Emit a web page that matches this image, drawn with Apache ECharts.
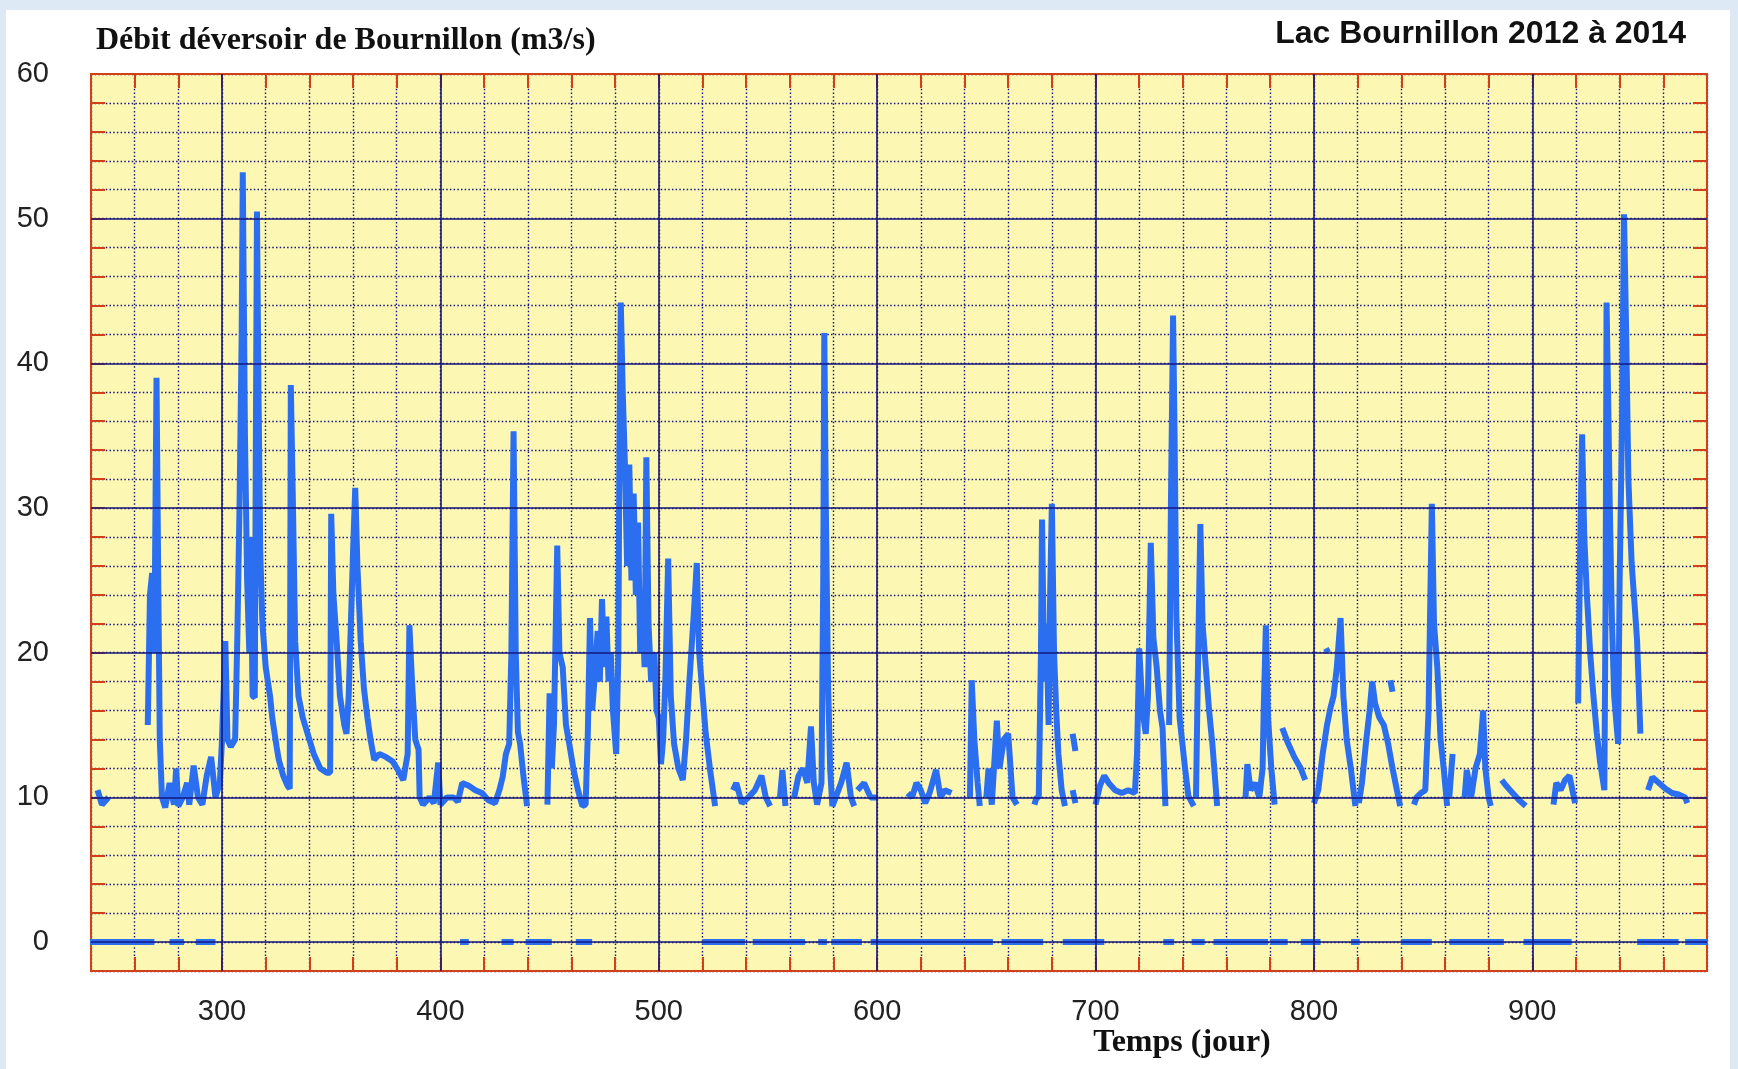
<!DOCTYPE html>
<html>
<head>
    <meta charset="utf-8">
    <title>Lac Bournillon 2012 à 2014</title>
    <script src="https://cdn.jsdelivr.net/npm/echarts@6/dist/echarts.min.js"></script>
    <style>
        body { margin: 0; background: #dde9f5; }
        #paper { position: absolute; left: 6px; top: 10px; right: 8px; bottom: 0; background: #ffffff; }
        #main { position: absolute; left: 0; top: 0; width: 1738px; height: 1069px; }
    </style>
</head>
<body>
    <div id="paper"></div>
    <div id="main"></div>
    <script>
        // débit du déversoir (jour, m3/s) ; null = coupure (déversoir à sec)
        var flow = [
            [243,10.5],[245,9.5],[248,10],null,
            [266,15],[267,24],[268,25.5],[269,20],[270,39],[270.8,25],[271.5,14],[272.5,10],[274,9.3],[276,11],[278,9.5],[279,12],[280,9.4],[282,10],[284,11],[285,9.5],[287,12.2],[289,10],[291,9.5],[293,11.5],[295,12.8],[297,10],[299,11],
            [300,14],[301.5,20.8],[302.5,14],[304,13.5],[306,14],[307,21],[308,30],[309,42],[309.5,53.2],[310.5,35],[311.5,25],[312.5,20],[313,28],[314,17],[315,16.9],[315.5,35],[316,50.5],[316.7,38],[317.5,27],[318.5,22],[320,19],[322,17],[323,15.5],[325,13.5],[326,12.6],[328,11.5],[330,10.8],[331,10.6],
            [331.5,38.5],[332.5,30],[333.5,20.8],[335,17],[337,15.5],[339,14.5],[342,13],[345,12],[348,11.7],[349.5,11.7],[350,29.6],[351,24],[352.5,20.8],[354,17],[356,15],[357,14.4],[358,17],[359,22],[360,27],[361,31.4],[362,26],[363.5,20.8],[365,17.5],[366.6,15.5],[368,14],[369.7,12.6],[372,13],[375,12.8],[378,12.5],[380.5,11.9],[383,11.2],[385,13],[385.8,21.9],[387,18],[388.5,14],[390,13.3],[390.5,10],[392,9.5],[395,10],[397,9.6],[399,12.4],
            [400,9.5],[403,10],[406,10],[408,9.7],[410,11],[413,10.8],[416,10.5],[419,10.3],[422,9.8],[425,9.6],[427,10.5],[428.5,11.4],[430,13],[431.5,13.7],[432.5,20],[433.5,35.3],[434.5,20],[435.5,14.5],[436.5,13.7],[438,11.5],[439.7,9.4],null,
            [449,9.5],[450,17.2],[451,12],[452,15],[453.5,27.4],[454.5,20],[456,19],[457.5,15],[459,13.7],[461,11.9],[463,10.5],[465,9.4],[466.5,9.5],[467.5,14.4],[468.5,22.4],[469.5,16],[471,19],[472,21.5],[473,18],[474,23.7],[475,19],[476,22.5],[477,18],[478,20],[479,16],[480.5,13],[481.5,20],[482,35],[482.6,44.2],[483.5,38],[484.5,33],[485.5,26],[486.5,33],[487.5,25],[488.5,31],[489.5,24],[490.5,29],[491.5,20],[492.5,23],[493.5,19],[494.3,33.5],[495.3,22],[496.5,18],[498,20],[499,16],
            [500,15.5],[501,12.3],[502,14],[503,18],[504.3,26.5],[505.5,17],[507,13.7],[509,12],[511,11.2],[512.5,14],[514,18],[516,22.6],[517.4,26.2],[518.5,20],[520,17.2],[521.5,14.4],[523.5,11.9],[525.8,9.4],null,
            [534,10.5],[535.5,11],[538,9.6],[541,10],[544,10.5],[547,11.5],[549,10],[551,9.4],null,
            [555.5,10],[556.6,11.9],[558,9.4],null,
            [562,10],[564,11.5],[566,12],[568,11],[569.7,14.9],[571,11],[572.5,9.5],[574.5,11],[575.3,25],[575.8,42.1],[576.5,30],[577.5,18],[578.5,11.9],[579.5,9.4],[581,10],[583.5,11],[586,12.4],[588,10],[589.5,9.4],null,
            [591,10.5],[594,11],[597,10],[600,10],null,
            [614,10.3],[616,10],[618,11],[620,10.5],[622,9.6],[624,10.3],[627,11.9],[629,10],[631,10.5],[634,10.3],null,
            [642.5,10],[643.3,18.1],[644.5,14],[646,11],[647,9.4],null,
            [650,10],[651,12],[652.5,9.5],[654.8,15.3],[656,12],[658,14],[660,14.4],[662,10],[664,9.5],null,
            [672,9.5],[673,10],[674,10],[675,20],[675.5,29.2],[676.5,18],[677.5,22],[678.5,15],[679.2,24],[680,30.3],[681,20],[682,16],[683,13],[684.5,10.5],[686,9.4],null,
            [689.5,14.4],[690.8,13.2],null,
            [689.5,10.5],[690.8,9.6],null,
            [700,9.5],[702,10.8],[704,11.5],[706,11],[709,10.5],[712,10.3],[715,10.5],[718,10.3],[719,13],[720,20.3],[721.5,16],[723,14.4],[724,17],[725.3,27.6],[726.5,21],[728,19],[729.5,16],[730.7,14.8],[732,9.4],null,
            [733.7,15],[734.5,30],[735.5,43.3],[736.2,35],[737,22.6],[738.5,15.5],[741,12],[742.5,10.1],[745,9.4],null,
            [746,10],[747,20],[748,28.9],[749,22],[750.5,19],[752,16],[753.5,13.7],[755.7,9.4],null,
            [768.7,10],[769.5,12.3],[771,10.5],[773,11],[775,10],[776.5,12],[777,16],[778,21.9],[779,15.5],[780.5,12],[782,9.5],null,
            [785.5,14.8],[788,13.8],[791,12.8],[794,12],[796,11.2],null,
            [800,9.6],[802,10.5],[804,13],[806,15],[807.6,16.2],[809,17],[810.5,19],[812.2,22.4],[813.5,17],[815,14],[817,11.9],[819,9.4],null,
            [805.5,20.3],[806.5,20],null,
            [820.6,9.6],[822,11],[824,14],[825.5,16],[826.7,18],[828,16.5],[830,15.5],[832,15],[834,13.7],[836,12],[838,10.5],[839.5,9.4],null,
            [835,18.1],[836,17.3],null,
            [845.8,9.5],[847,10],[849,10.3],[851,10.5],[852.5,16],[854,30.3],[855,22],[856.5,19],[858,14],[859.5,11.9],[861,9.4],null,
            [862,10],[863.5,13],null,
            [869,10],[870,11.9],[872,10],[874,12],[876,13],[877.5,16],[878.5,12],[880,10],[881,9.4],null,
            [886,11.2],[888,10.8],[891,10.3],[894,9.8],[897,9.4],null,
            [909.7,9.5],[911,11],[913,10.5],[915,11.2],[917,11.5],[919.6,9.6],null,
            [921,16.5],[922,28],[922.8,35.1],[923.8,28],[925,24],[926.5,20],[928,17],[929.5,14.5],[931,12.5],[933,10.5],[933.6,25],[934,44.2],[934.7,38],[935.5,30],[936.5,22],[937.5,17],[939.3,13.7],[940,25],[941,35],[942,50.3],[943,42],[944,32],[945.5,26.2],[947,23],[948,20.8],[949.5,14.4],null,
            [953,10.5],[955,11.4],[958,11],[961,10.6],[964,10.3],[967,10.2],[970,10],[971,9.6]
        ]

        // périodes à débit nul (jour début, jour fin)
        var zeroFrom = [239.5, 276, 288, 409, 428, 439, 462, 520, 543, 573, 579, 597, 657, 685, 731, 744, 754, 780, 794, 817, 840, 862, 896, 948, 970]
        var zeroTo   = [269, 282.6, 297, 413, 433.5, 451, 469.5, 539.5, 567, 577, 593, 653, 676, 704, 736, 750, 779, 788, 803, 821, 854, 887, 918, 967, 980]

        // graduations
        var xMajor = [300, 400, 500, 600, 700, 800, 900]
        var yMajor = [0, 10, 20, 30, 40, 50]

        var toLine = function(points) {
            var out = []
            for (var i = 0; i < points.length; i++) {
                if (points[i] === null) {
                    out.push([points[i - 1][0], '-'])
                } else {
                    out.push(points[i])
                }
            }
            return out
        }

        var zeroLine = []
        for (var i = 0; i < zeroFrom.length; i++) {
            zeroLine.push([zeroFrom[i], 0])
            zeroLine.push([zeroTo[i], 0])
            zeroLine.push([zeroTo[i], '-'])
        }

        var red = '#d2401a'
        var navy = '#16167e'
        var blue = '#2b6ff0'

        var tickAxis = {
            axisLine: { show: true, onZero: false, lineStyle: { color: red, width: 2 } },
            axisTick: { show: true, inside: true, length: 14, lineStyle: { color: red, width: 2 } }
        }

        var myChart = echarts.init(document.querySelector('#main'))

        var option = {
            animation: false,
            title: [
                {
                    text: 'Débit déversoir de Bournillon (m3/s)',
                    left: 96, top: 25, padding: 0,
                    textStyle: { fontFamily: 'Liberation Serif', fontWeight: 'bold', fontSize: 32, color: '#111' }
                },
                {
                    text: 'Lac Bournillon 2012 à 2014',
                    right: 52, top: 18, padding: 0,
                    textStyle: { fontFamily: 'Liberation Sans', fontWeight: 'bold', fontSize: 32, color: '#111' }
                },
                {
                    text: 'Temps (jour)',
                    left: 1182, top: 1027, padding: 0, textAlign: 'center',
                    textStyle: { fontFamily: 'Liberation Serif', fontWeight: 'bold', fontSize: 32, color: '#111' }
                }
            ],
            grid: {
                show: true,
                left: 91, right: 31, top: 74, bottom: 98,
                backgroundColor: '#fcf8b4',
                borderColor: red,
                borderWidth: 2
            },
            xAxis: [
                Object.assign({
                    type: 'value', min: 240, max: 980, interval: 20, position: 'bottom',
                    axisLabel: {
                        interval: 0, margin: 26, fontFamily: 'Liberation Sans', fontSize: 29, color: '#222',
                        formatter: function(v) { return v % 100 === 0 ? String(v) : '' }
                    },
                    splitLine: { show: true, lineStyle: { color: navy, width: 1.4, type: [1.5, 2.2] } }
                }, tickAxis),
                Object.assign({
                    type: 'value', min: 240, max: 980, interval: 20, position: 'top',
                    axisLabel: { show: false }, splitLine: { show: false }
                }, tickAxis)
            ],
            yAxis: [
                Object.assign({
                    type: 'value', min: -2, max: 60, interval: 2, position: 'left',
                    axisLabel: {
                        interval: 0, margin: 42, fontFamily: 'Liberation Sans', fontSize: 29, color: '#222',
                        formatter: function(v) { return v % 10 === 0 ? String(v) : '' }
                    },
                    splitLine: { show: true, lineStyle: { color: navy, width: 1.4, type: [1.5, 2.2] } }
                }, tickAxis),
                Object.assign({
                    type: 'value', min: -2, max: 60, interval: 2, position: 'right',
                    axisLabel: { show: false }, splitLine: { show: false }
                }, tickAxis)
            ],
            series: [
                {
                    // quadrillage principal
                    type: 'line', data: [], z: 1, silent: true,
                    markLine: {
                        silent: true, symbol: 'none', animation: false,
                        label: { show: false },
                        lineStyle: { color: navy, width: 1.6, type: 'solid' },
                        data: xMajor.map(function(v) { return { xAxis: v } })
                            .concat(yMajor.map(function(v) { return { yAxis: v } }))
                    }
                },
                {
                    name: 'zéro', type: 'line', data: zeroLine, z: 3,
                    showSymbol: false, connectNulls: false,
                    lineStyle: { color: blue, width: 6, cap: 'butt' }
                },
                {
                    name: 'débit', type: 'line', data: toLine(flow), z: 4,
                    showSymbol: false, connectNulls: false,
                    lineStyle: { color: blue, width: 6, join: 'bevel' }
                }
            ]
        }

        myChart.setOption(option)
    </script>
</body>
</html>
